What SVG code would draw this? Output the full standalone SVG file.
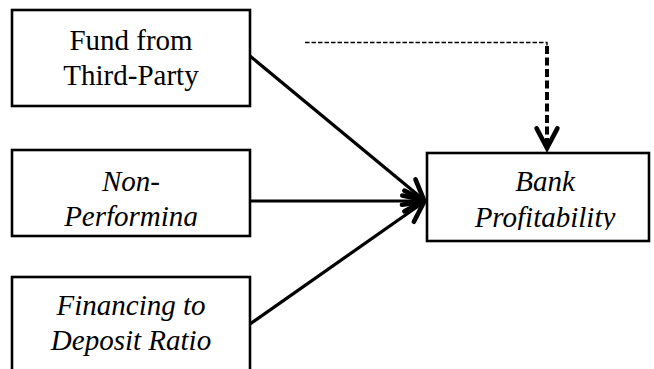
<svg xmlns="http://www.w3.org/2000/svg" width="654" height="369" viewBox="0 0 654 369">
<style>
.box{fill:#fff;stroke:#000;stroke-width:2.6}
.t{font-family:Liberation Serif,Tinos,Noto Serif,FreeSerif,Times,serif;font-size:29px;fill:#000;text-anchor:middle}
.i{font-style:italic}
.conn{fill:none;stroke:#000;stroke-width:3.2}
</style>
<defs>
<marker id="ah" markerUnits="userSpaceOnUse" markerWidth="30" markerHeight="30" viewBox="-22 -12 26 24" refX="0" refY="0" orient="auto">
<path d="M-17,-9 L0,0 L-17,9" fill="none" stroke="#000" stroke-width="4" stroke-linecap="round" stroke-linejoin="miter"/>
</marker>
<clipPath id="c2"><rect x="12" y="150" width="238" height="76"/></clipPath>
<clipPath id="c4"><rect x="427" y="153" width="222" height="77"/></clipPath>
</defs>
<rect width="654" height="369" fill="#fff"/>
<g id="connectors">
<line class="conn" x1="250" y1="56" x2="424" y2="200" marker-end="url(#ah)"/>
<line class="conn" x1="250" y1="201" x2="424" y2="201" marker-end="url(#ah)"/>
<line class="conn" x1="250" y1="324" x2="424" y2="202" marker-end="url(#ah)"/>
<polyline points="305,42.5 547,42.5 547,47" fill="none" stroke="#000" stroke-width="1.4" stroke-dasharray="4.5,2"/>
<line x1="547" y1="46" x2="547" y2="148" stroke="#000" stroke-width="4" stroke-dasharray="8,3.5" marker-end="url(#ah)"/>
</g>
<g id="n1">
<rect class="box" x="12" y="10" width="238" height="96"/>
<text class="t" x="131" y="50" font-family="Liberation Serif">Fund from</text>
<text class="t" x="131" y="85" font-family="Liberation Serif">Third-Party</text>
</g>
<g id="n2">
<rect class="box" x="12" y="150" width="238" height="86"/>
<g clip-path="url(#c2)">
<text class="t i" x="131" y="191">Non-</text>
<text class="t i" x="131" y="226">Performing</text>
</g>
</g>
<g id="n3">
<rect class="box" x="12" y="277" width="238" height="100"/>
<text class="t i" x="131" y="315">Financing to</text>
<text class="t i" x="131" y="350">Deposit Ratio</text>
</g>
<g id="n4">
<rect class="box" x="427" y="153" width="222" height="88"/>
<g clip-path="url(#c4)">
<text class="t i" x="545" y="191">Bank</text>
<text class="t i" x="545" y="227">Profitability</text>
</g>
</g>
</svg>
